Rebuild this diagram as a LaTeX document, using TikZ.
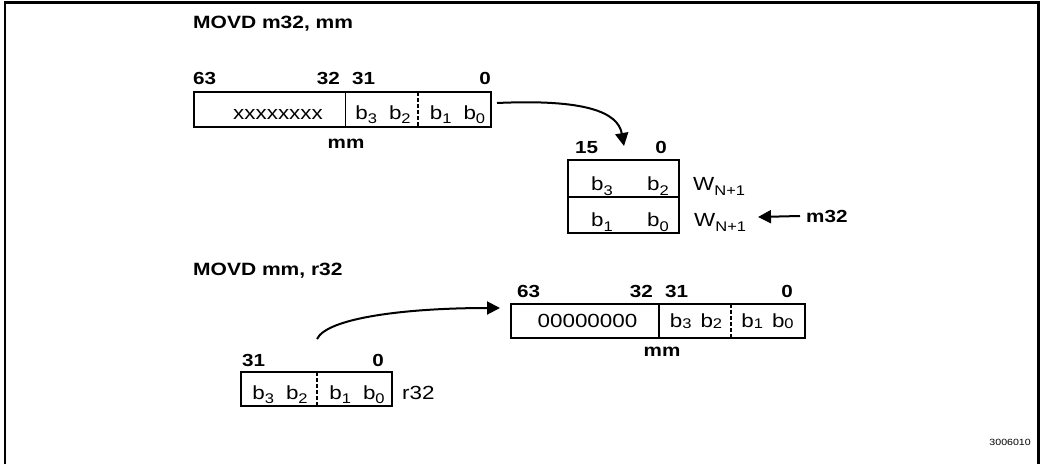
\documentclass[tikz,border=0pt]{standalone}
\usepackage{fontspec}
\setmainfont{Liberation Sans}[FakeStretch=1.18]
\usetikzlibrary{arrows.meta}
\newcommand{\lo}[2][4pt]{\raisebox{-#1}{\fontsize{14}{14}\selectfont #2}}
\tikzset{
  regbox/.style={draw,line width=2pt,inner sep=0pt},
  bitlbl/.style={font=\fontsize{17.5}{19}\selectfont\bfseries,inner sep=0pt},
  celltxt/.style={font=\fontsize{19}{21}\selectfont,inner sep=0pt,anchor=base},
  heading/.style={font=\fontsize{17.8}{19}\selectfont\bfseries,inner sep=0pt,anchor=base west},
  fullsep/.style={line width=1.4pt},
  halfsep/.style={line width=2.2pt,dash pattern=on 4pt off 2pt},
  moveto/.style={line width=2pt,-{Triangle[length=13pt,width=13pt]}}
}

\begin{document}
\begin{tikzpicture}[x=1pt,y=-1pt]
  \useasboundingbox (0,0) rectangle (1041,464);
  \draw[line width=2.5pt] (5,464) -- (5,2.5) -- (1038.5,2.5) -- (1038.5,464);

  \node[heading] (t1) at (193,28) {MOVD m32, mm};
  \node[regbox,minimum width=297pt,minimum height=34.5pt] (mmsrc) at (342.5,109.25) {};
  \draw[fullsep] (345.7,92) -- (345.7,126.5);
  \draw[halfsep] (418,92) -- (418,126.5);
  \foreach \n/\x/\a/\t in {s63/193/base west/63,s32/340/base east/32,s31/352/base west/31,s0/491/base east/0}
    \node[bitlbl,anchor=\a] (\n) at (\x,84.5) {\t};
  \node[celltxt] (sx) at (278,119.5) {xxxxxxxx};
  \node[celltxt] (shi) at (383,119.5) {b\lo{3}\hspace{12pt}b\lo{2}};
  \node[celltxt] (slo) at (457.5,119.5) {b\lo{1}\hspace{12pt}b\lo{0}};
  \node[bitlbl,anchor=base] (smm) at (346,148) {mm};

  \node[regbox,minimum width=111pt,minimum height=37pt] (wordhi) at (623.5,178.5) {};
  \node[regbox,minimum width=111pt,minimum height=36pt] (wordlo) at (623.5,215) {};
  \node[bitlbl,anchor=base west] (w15) at (575,153) {15};
  \node[bitlbl,anchor=base east] (w0) at (667,153) {0};
  \node[celltxt] (wb3) at (602,190.5) {b\lo[5pt]{3}};
  \node[celltxt] (wb2) at (658,190.5) {b\lo[5pt]{2}};
  \node[celltxt] (wb1) at (602,226.5) {b\lo[5pt]{1}};
  \node[celltxt] (wb0) at (658,226.5) {b\lo[5pt]{0}};
  \node[celltxt,anchor=base west] (whi) at (693,190) {W\lo[5pt]{N+1}};
  \node[celltxt,anchor=base west] (wlo) at (694,226) {W\lo[5pt]{N+1}};
  \node[bitlbl,anchor=base west] (m32) at (806,222) {m32};

  \coordinate (srcout) at (497,103);
  \coordinate (wordin) at (624,146);
  \coordinate (m32tip) at (758,217);
  \draw[moveto] (srcout) .. controls (585,99) and (618,112) .. (wordin);
  \draw[moveto] ([xshift=-6pt]m32.west) -- (m32tip);

  \node[heading] (t2) at (193,275) {MOVD mm, r32};
  \node[regbox,minimum width=294pt,minimum height=34pt] (mmdst) at (658,321) {};
  \draw[fullsep] (659,304) -- (659,338);
  \draw[halfsep] (731,304) -- (731,338);
  \foreach \n/\x/\a/\t in {d63/517/base west/63,d32/653/base east/32,d31/665/base west/31,d0/793/base east/0}
    \node[bitlbl,anchor=\a] (\n) at (\x,297) {\t};
  \node[celltxt] (dz) at (587.5,327) {00000000};
  \node[celltxt] (dhi) at (696,327) {b\lo[1.5pt]{3}\hspace{9pt}b\lo[1.5pt]{2}};
  \node[celltxt] (dlo) at (767.5,327) {b\lo[1.5pt]{1}\hspace{9pt}b\lo[1.5pt]{0}};
  \node[bitlbl,anchor=base] (dmm) at (662,356) {mm};

  \node[regbox,minimum width=151pt,minimum height=34pt] (r32box) at (316.5,389) {};
  \draw[halfsep] (317,372) -- (317,406);
  \node[bitlbl,anchor=base west] (r31) at (242,366) {31};
  \node[bitlbl,anchor=base east] (r0) at (384,366) {0};
  \node[celltxt] (rhi) at (280,399) {b\lo{3}\hspace{12pt}b\lo{2}};
  \node[celltxt] (rlo) at (357,399) {b\lo{1}\hspace{12pt}b\lo{0}};
  \node[celltxt,anchor=base west] (rname) at (402,399) {r32};

  \coordinate (r32up) at (317,339);
  \coordinate (mmin) at (500,308);
  \draw[moveto] (r32up) .. controls (327,318) and (405,308) .. (mmin);

  \node[font=\fontsize{9}{10}\selectfont,anchor=base east,inner sep=0pt] (figno) at (1031,445) {3006010};
\end{tikzpicture}
\end{document}
